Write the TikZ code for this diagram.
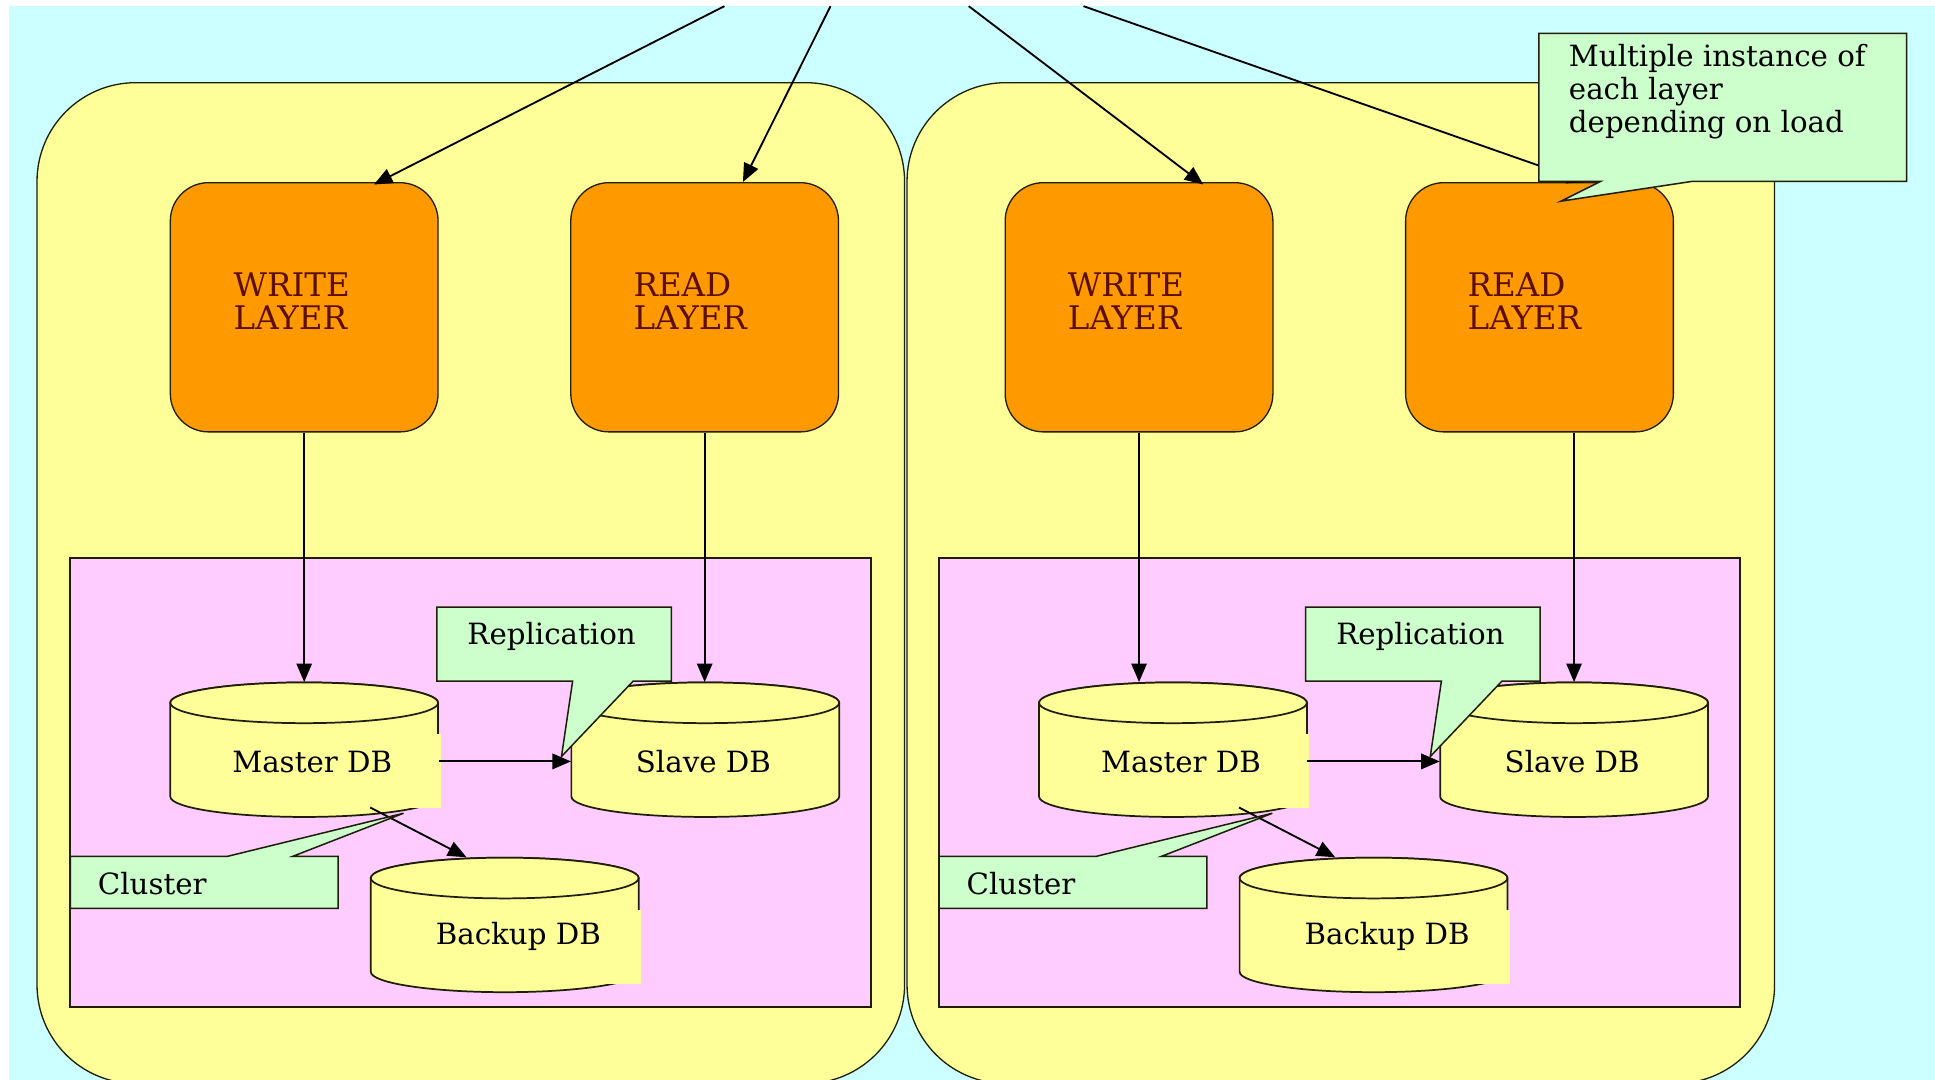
\documentclass[tikz,border=0pt]{standalone}
\usepackage{fontspec}
\setmainfont{DejaVu Serif}
\usetikzlibrary{arrows.meta,calc}
\definecolor{bgcyan}{HTML}{CCFFFF}
\definecolor{contyellow}{HTML}{FFFF99}
\definecolor{layerorange}{HTML}{FF9900}
\definecolor{clusterpink}{HTML}{FFCCFF}
\definecolor{notegreen}{HTML}{CCFFCC}
\definecolor{layertext}{HTML}{5C0F00}
\definecolor{edgecol}{HTML}{1E1E0A}

% database cylinder: name, centre x, top y, text x offset, text
\newcommand\dbcyl[5]{%
  \node[cylbox] (#1) at (#2,{#3-54.5}) {};
  \draw[cylline] ({#2-108.5},{#3-16.5}) -- ({#2-108.5},{#3-92.5})
     arc[start angle=180,end angle=360,x radius=108.5,y radius=16.5]
     -- ({#2+108.5},{#3-16.5})
     arc[start angle=0,end angle=180,x radius=108.5,y radius=16.5] -- cycle;
  \draw[cylline] (#2,{#3-16.5}) ellipse[x radius=108.5,y radius=16.5];
}
\newcommand\dbpatch[2]{%
  \fill[contyellow] ({#1+40},{#2-42}) rectangle ({#1+110.5},{#2-102});
}

% lower half of one cell: suffix, x shift
\newcommand\dbhalf[2]{%
  \draw[pinkbox] ({57+#2},-452) rectangle ({706+#2},-816);
  \dbcyl{mdb#1}{246.5+#2}{-553}{6.5}{}
  \dbpatch{246.5+#2}{-553}
  \node[dbtxt] (mdbt#1) at ({253+#2},-617.5) {Master DB};
  \dbcyl{sdb#1}{571.5+#2}{-553}{-1.5}{}
  \node[dbtxt] (sdbt#1) at ({570+#2},-617.5) {Slave DB};
  \dbcyl{bdb#1}{409+#2}{-695}{11}{}
  \dbpatch{409+#2}{-695}
  \node[dbtxt] (bdbt#1) at ({420+#2},-759) {Backup DB};
  \draw[conn] ([yshift=-0.19cm]mdb#1.east) -- ([yshift=-0.19cm]sdb#1.west);
  \draw[conn] ($(mdb#1.south)+(53.5,8)$) -- ($(bdb#1.north)+(-31,0)$);
  % Replication callout
  \draw[note] ({354+#2},-492) -- ({544+#2},-492) -- ({544+#2},-552) -- ({513+#2},-552)
     -- ({455+#2},-613) -- ({464+#2},-552) -- ({354+#2},-552) -- cycle;
  \node[notetxt] (rep#1) at ({447+#2},-516) {Replication};
  % Cluster callout
  \draw[note] ({57+#2},-694) -- ({184+#2},-694) -- ({327+#2},-659) -- ({237+#2},-694)
     -- ({274+#2},-694) -- ({274+#2},-736) -- ({57+#2},-736) -- cycle;
  \node[notetxt, anchor=west] (clu#1) at ({79+#2},-716) {Cluster};
}

\begin{document}
\begin{tikzpicture}[x=0.02cm,y=0.02cm,
  container/.style={draw=edgecol, line width=0.6pt, fill=contyellow, rounded corners=1.6cm},
  layerbox/.style={draw=edgecol, line width=0.6pt, fill=layerorange, rounded corners=0.62cm,
     minimum width=4.34cm, minimum height=4.04cm, inner sep=0pt},
  layertxt/.style={font=\fontsize{15}{14.8}\selectfont, text=layertext, align=left,
     anchor=west, inner sep=0pt},
  pinkbox/.style={draw=edgecol, line width=0.9pt, fill=clusterpink},
  cylbox/.style={minimum width=4.34cm, minimum height=2.18cm, inner sep=0pt},
  cylline/.style={draw=edgecol, line width=0.8pt, fill=contyellow},
  dbtxt/.style={font=\fontsize{13.5}{16}\selectfont, inner sep=0pt},
  note/.style={draw=edgecol, line width=0.7pt, fill=notegreen, line join=miter},
  notetxt/.style={font=\fontsize{13.5}{16}\selectfont, inner sep=0pt},
  conn/.style={draw=black, line width=0.85pt, -{Triangle[length=0.3cm,width=0.25cm]}},
]
\useasboundingbox (0,0) rectangle (1568,-875);
\clip (0,0) rectangle (1568,-875);
\fill[white] (0,0) rectangle (1568,-875);
\fill[bgcyan] (7,-5) rectangle (1568,-875);

% containers
\draw[container] (30,-67) rectangle (733,-878);
\draw[container] (735,-67) rectangle (1438,-878);

% layer boxes
\node[layerbox] (w1) at (246.5,-249) {};
\node[layertxt] (wt1) at (189,-244) {WRITE\\LAYER};
\node[layerbox] (r1) at (571,-249) {};
\node[layertxt] (rt1) at (513,-244) {READ\\LAYER};
\node[layerbox] (w2) at (923,-249) {};
\node[layertxt] (wt2) at (865,-244) {WRITE\\LAYER};
\node[layerbox] (r2) at (1247.5,-249) {};
\node[layertxt] (rt2) at (1189,-244) {READ\\LAYER};

% incoming connectors from above
\coordinate (t1) at (587,-5);
\coordinate (t2) at (673,-5);
\coordinate (t3) at (785,-5);
\coordinate (t4) at (878,-5);
\draw[conn] (t1) -- ($(w1.north)+(56.5,-2)$);
\draw[conn] (t2) -- ($(r1.north)+(31,0)$);
\draw[conn] (t3) -- ($(w2.north)+(52,-2)$);
\draw[conn] (t4) -- ($(r2.north)+(37.5,0)$);

% database areas
\dbhalf{1}{0}
\dbhalf{2}{704}

% layer to database connectors
\draw[conn] (w1.south) -- (w1.south |- mdb1.north);
\draw[conn] (r1.south) -- (r1.south |- sdb1.north);
\draw[conn] (w2.south) -- (w2.south |- mdb2.north);
\draw[conn] (sdb2.north |- r2.south) -- (sdb2.north);

% top callout
\draw[note] (1247,-27) -- (1545,-27) -- (1545,-147) -- (1371,-147) -- (1265,-163)
   -- (1297,-147) -- (1247,-147) -- cycle;
\node[notetxt, font=\fontsize{13.5}{15.3}\selectfont, align=left, anchor=west]
   (multi) at (1271,-74) {Multiple instance of\\each layer\\depending on load};
\end{tikzpicture}
\end{document}
